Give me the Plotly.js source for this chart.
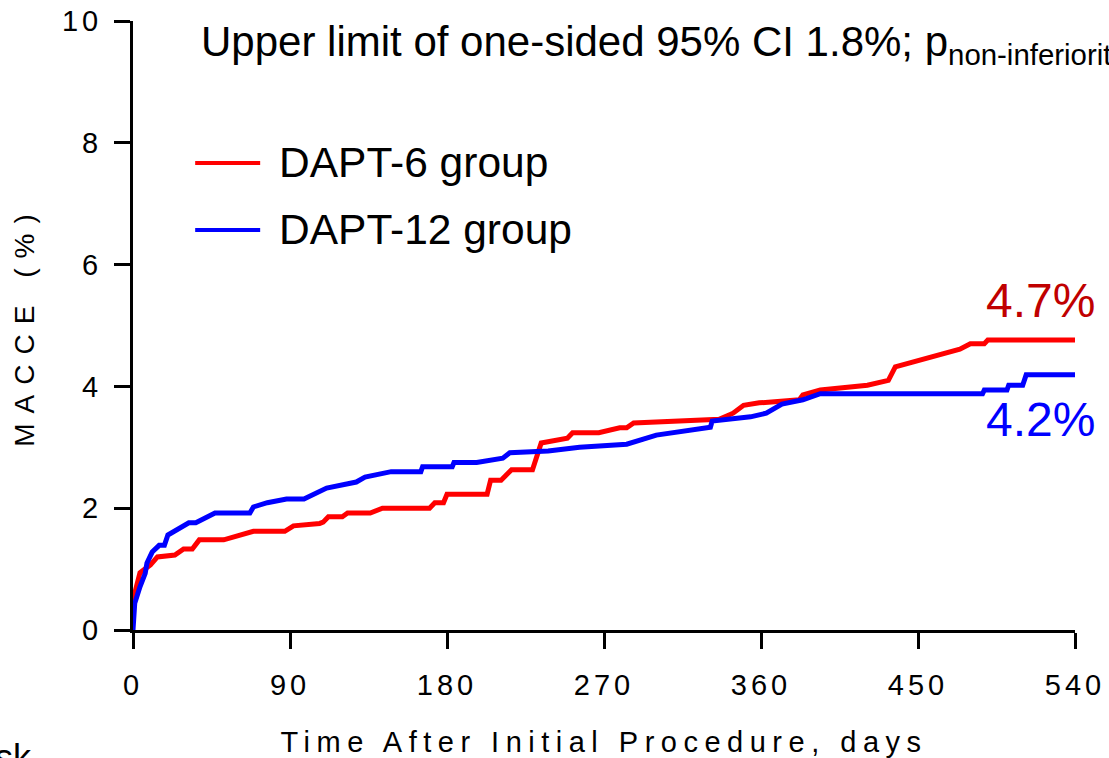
<!DOCTYPE html>
<html>
<head>
<meta charset="utf-8">
<script src="https://cdn.plot.ly/plotly-3.0.1.min.js"></script>
<style>
  html, body { margin: 0; padding: 0; background: #fff; }
  #chart { width: 1109px; height: 758px; }
  .xtick text, .ytick text { letter-spacing: 4px; }
  .xtitle { letter-spacing: 6.5px; }
  .ytitle { letter-spacing: 10px; }
</style>
</head>
<body>
<div id="chart"></div>
<script>
// ---- data ----
const seriesNames = ["DAPT-6 group", "DAPT-12 group"];
const seriesColors = ["#ff0000", "#0000ff"];
const endLabels = ["4.7%", "4.2%"];
const endLabelColors = ["#c00000", "#0000ff"];

const dapt6Days = [0, 4, 10, 14, 24, 29, 34, 38, 52, 69, 87, 92, 107, 109, 112, 120, 123, 136, 143, 170,
  173, 178, 180, 203, 205, 211, 217, 229, 234, 249, 252, 267, 279, 283, 287, 336, 344, 350, 359, 382,
  384, 394, 421, 433, 437, 459, 474, 480, 488, 490, 540];
const dapt6Macce = [0.49, 0.94, 1.07, 1.2, 1.23, 1.33, 1.33, 1.48, 1.48, 1.62, 1.62, 1.71, 1.75, 1.77, 1.86, 1.86, 1.92, 1.92, 2.0, 2.0,
  2.09, 2.09, 2.23, 2.23, 2.46, 2.46, 2.63, 2.63, 3.07, 3.15, 3.24, 3.24, 3.32, 3.32, 3.40, 3.46, 3.56, 3.69, 3.73, 3.78,
  3.86, 3.94, 4.02, 4.10, 4.32, 4.48, 4.61, 4.70, 4.70, 4.76, 4.76];

const dapt12Days = [0, 1, 4, 7, 8, 11, 15, 18, 20, 26, 32, 36, 44, 47, 67, 69, 77, 88, 98, 111,
  128, 133, 148, 165, 166, 183, 184, 197, 212, 216, 238, 256, 283, 292, 300, 331, 332, 354, 363, 372,
  384, 394, 487, 488, 501, 502, 510, 512, 540];
const dapt12Macce = [0, 0.44, 0.71, 0.93, 1.1, 1.28, 1.39, 1.39, 1.56, 1.66, 1.76, 1.76, 1.89, 1.92, 1.92, 2.02, 2.09, 2.15, 2.15, 2.33,
  2.43, 2.51, 2.6, 2.6, 2.68, 2.68, 2.75, 2.75, 2.82, 2.91, 2.94, 3.0, 3.05, 3.13, 3.2, 3.33, 3.43, 3.5, 3.56, 3.71,
  3.78, 3.88, 3.88, 3.94, 3.94, 4.02, 4.02, 4.19, 4.19];

const xTickVals = [0, 90, 180, 270, 360, 450, 540];
const yTickVals = [0, 2, 4, 6, 8, 10];

const titleText = "Upper limit of one-sided 95% CI 1.8%; p<sub>non-inferiority</sub>";
const xTitle = "Time After Initial Procedure, days";
const yTitle = "MACCE (%)";
const cornerText = "sk";

// ---- chart ----
const FONT = "Liberation Sans, Arial, Helvetica, sans-serif";
const xs = [dapt6Days, dapt12Days];
const ys = [dapt6Macce, dapt12Macce];

const traces = xs.map((x, i) => ({
  type: "scatter", mode: "lines", x: x, y: ys[i], name: seriesNames[i],
  line: { color: seriesColors[i], width: 5, shape: "linear" },
  showlegend: false, hoverinfo: "x+y+name"
}));

const annotations = [];
// title
annotations.push({
  xref: "paper", yref: "paper", x: 0.0705, y: 0.961, xanchor: "left", yanchor: "middle",
  text: titleText, showarrow: false, font: { family: FONT, size: 42, color: "#000" }
});
// end labels anchored at each series' last point
const endShift = [40, -45];
xs.forEach((x, i) => {
  annotations.push({
    xref: "x", yref: "y", x: x[x.length - 1], y: ys[i][ys[i].length - 1],
    xanchor: "right", yanchor: "middle", xshift: 22, yshift: endShift[i],
    text: endLabels[i], showarrow: false,
    font: { family: FONT, size: 48, color: endLabelColors[i] }
  });
});
// custom legend (long line samples)
const shapes = [];
const legY = [0.767, 0.657];
seriesNames.forEach((n, i) => {
  shapes.push({
    type: "line", xref: "paper", yref: "paper", x0: 0.066, x1: 0.135, y0: legY[i], y1: legY[i],
    line: { color: seriesColors[i], width: 4 }
  });
  annotations.push({
    xref: "paper", yref: "paper", x: 0.153, y: legY[i], xanchor: "left", yanchor: "middle",
    text: n, showarrow: false, font: { family: FONT, size: 42.5, color: "#000" }
  });
});
// cut-off corner text
annotations.push({
  xref: "paper", yref: "paper", x: -0.105, y: -0.172, xanchor: "right", yanchor: "top",
  text: cornerText, showarrow: false, font: { family: FONT, size: 36, color: "#000" }
});

const layout = {
  width: 1109, height: 758,
  margin: { l: 133, r: 34, t: 21, b: 128 },
  paper_bgcolor: "#fff", plot_bgcolor: "#fff",
  font: { family: FONT, color: "#000" },
  xaxis: {
    range: [0, 540], tickvals: xTickVals, ticktext: xTickVals.map(String),
    showgrid: false, zeroline: false, showline: true, linecolor: "#000", linewidth: 3,
    ticks: "outside", ticklen: 16, tickwidth: 3, tickcolor: "#000",
    tickfont: { family: FONT, size: 29, color: "#000" }, ticklabelstandoff: 11,
    title: { text: xTitle, font: { family: FONT, size: 29, color: "#000" }, standoff: 36 }
  },
  yaxis: {
    range: [0, 10], tickvals: yTickVals, ticktext: yTickVals.map(String),
    showgrid: false, zeroline: false, showline: true, linecolor: "#000", linewidth: 3,
    ticks: "outside", ticklen: 16, tickwidth: 3, tickcolor: "#000",
    tickfont: { family: FONT, size: 29, color: "#000" }, ticklabelstandoff: 6,
    title: { text: yTitle, font: { family: FONT, size: 28, color: "#000" }, standoff: 20 }
  },
  shapes: shapes,
  annotations: annotations,
  showlegend: false
};

Plotly.newPlot("chart", traces, layout, { displayModeBar: false, staticPlot: true });
</script>
</body>
</html>
